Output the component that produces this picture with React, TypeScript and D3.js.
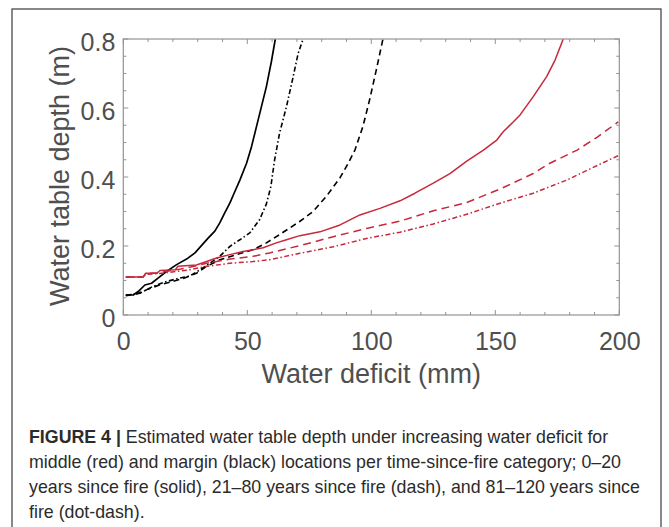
import React, { useEffect, useRef } from "react";
import * as d3 from "d3";

// water deficit (mm) vs water table depth (m)
const marginSolid: [number, number][] = [
  [1, 0.058], [4, 0.058], [6, 0.068], [8.7, 0.087], [11.4, 0.092], [14, 0.107],
  [17.4, 0.126], [21.5, 0.146], [25.5, 0.162], [28.9, 0.18], [31.5, 0.201],
  [34.2, 0.223], [36.9, 0.243], [38.9, 0.267], [40.9, 0.296], [43, 0.325],
  [44.5, 0.35], [47, 0.391], [49.7, 0.44], [51.7, 0.488], [53.7, 0.546],
  [55.7, 0.604], [57.7, 0.662], [59.7, 0.734], [61.3, 0.8],
];
const marginDash: [number, number][] = [
  [1, 0.058], [5, 0.06], [10, 0.075], [15, 0.088], [20, 0.097], [25, 0.108],
  [29.5, 0.121], [33.6, 0.141], [38.9, 0.16], [45.6, 0.175], [52.3, 0.189],
  [57.7, 0.209], [63, 0.233], [71.1, 0.271], [76.5, 0.3], [82, 0.345],
  [87.4, 0.398], [90.7, 0.44], [93.4, 0.478], [96.6, 0.546], [99.3, 0.623],
  [102, 0.71], [104.7, 0.8],
];
const marginDashDot: [number, number][] = [
  [1, 0.056], [6.7, 0.063], [12, 0.083], [17.4, 0.097], [22.8, 0.107],
  [26.8, 0.113], [30.9, 0.131], [34.9, 0.15], [38.9, 0.17], [43, 0.199],
  [47, 0.218], [51, 0.238], [55, 0.277], [57.7, 0.322], [59.5, 0.372],
  [61, 0.449], [63, 0.527], [65.8, 0.604], [68.5, 0.691], [70.5, 0.758],
  [72.5, 0.8],
];
const middleSolid: [number, number][] = [
  [1, 0.11], [8, 0.11], [9, 0.121], [13.5, 0.121], [14.8, 0.129], [21, 0.131],
  [22, 0.141], [29.5, 0.145], [33.6, 0.155], [37.6, 0.165], [43, 0.175],
  [48.3, 0.184], [52.3, 0.189], [56.4, 0.195], [61.7, 0.209], [65.8, 0.218],
  [71.2, 0.23], [79.3, 0.241], [87.4, 0.261], [95.4, 0.29], [103.5, 0.309],
  [111.6, 0.331], [117.6, 0.353], [125, 0.382], [131.7, 0.41], [138.5, 0.446],
  [145.2, 0.478], [150.6, 0.507], [153.2, 0.531], [157.3, 0.56], [160, 0.58],
  [165.3, 0.633], [170.7, 0.691], [174.1, 0.739], [177.4, 0.8],
];
const middleDash: [number, number][] = [
  [1, 0.11], [8, 0.11], [9, 0.12], [14, 0.122], [18.8, 0.128], [25.5, 0.136],
  [33.6, 0.15], [43, 0.162], [52.3, 0.17], [59, 0.18], [71.2, 0.201],
  [84.7, 0.227], [98.1, 0.251], [111.6, 0.272], [125, 0.302], [138.5, 0.326],
  [151.9, 0.365], [165.3, 0.41], [172, 0.44], [183, 0.478], [191, 0.515],
  [199.6, 0.56],
];
const middleDashDot: [number, number][] = [
  [1, 0.11], [8, 0.11], [9, 0.118], [14, 0.12], [18.8, 0.124], [26.8, 0.131],
  [33.6, 0.141], [43, 0.15], [52.3, 0.155], [59, 0.16], [71.2, 0.179],
  [84.7, 0.198], [98.1, 0.222], [111.6, 0.24], [125, 0.264], [138.5, 0.292],
  [151.9, 0.324], [165.3, 0.353], [178.8, 0.391], [189.5, 0.428], [199.6, 0.462],
];

const xTicks = [0, 50, 100, 150, 200];
const yTicks = [0, 0.2, 0.4, 0.6, 0.8];

const captionLines = [
  "Estimated water table depth under increasing water deficit for",
  "middle (red) and margin (black) locations per time-since-fire category; 0–20",
  "years since fire (solid), 21–80 years since fire (dash), and 81–120 years since",
  "fire (dot-dash).",
];

const RED = "#c7283a";
const series = [
  { data: marginSolid, color: "#000", dash: null, w: 1.7 },
  { data: marginDash, color: "#000", dash: "6,4", w: 1.6 },
  { data: marginDashDot, color: "#000", dash: "5,2.5,1.5,2.5", w: 1.6 },
  { data: middleSolid, color: RED, dash: null, w: 1.5 },
  { data: middleDash, color: RED, dash: "8,5", w: 1.5 },
  { data: middleDashDot, color: RED, dash: "5,2.5,1.5,2.5", w: 1.5 },
];

var svgWidth = 669;
var svgHeight = 527;
var left = 123.3, right = 619.3, top = 39, bottom = 315;

export default function App() {
  const ref = useRef<SVGSVGElement>(null);

  useEffect(() => {
    const svg = d3.select(ref.current);
    svg.selectAll("*").remove();

    const xScale = d3.scaleLinear().domain([0, 200]).range([left, right]);
    const yScale = d3.scaleLinear().domain([0, 0.8]).range([bottom, top]);
    const font = "'Liberation Sans', Arial, Helvetica, sans-serif";
    const axisGrey = "#939393";
    const textGrey = "#4f4f4f";

    // outer frame of the figure
    svg.append("rect")
      .attr("x", 12).attr("y", 9)
      .attr("width", 649).attr("height", 620)
      .attr("fill", "none")
      .attr("stroke", "#4a4a4a")
      .attr("stroke-width", 1.3);

    // curves
    const line = d3.line<[number, number]>()
      .x(d => xScale(d[0]))
      .y(d => yScale(d[1]));

    series.forEach(s => {
      svg.append("path")
        .datum(s.data)
        .attr("d", line)
        .attr("fill", "none")
        .attr("stroke", s.color)
        .attr("stroke-width", s.w)
        .attr("stroke-dasharray", s.dash)
        .attr("stroke-linejoin", "round");
    });

    // inward ticks on all 4 sides
    const xMinor = d3.range(0, 201, 10);
    const yMinor = d3.range(0, 0.801, 0.05);
    const isMajorX = (v: number) => v % 50 === 0;
    const isMajorY = (v: number) => Math.abs(v * 5 - Math.round(v * 5)) < 1e-6;

    const tickG = svg.append("g").attr("stroke", axisGrey).attr("stroke-width", 1);
    xMinor.forEach(v => {
      const len = isMajorX(v) ? 5 : 3;
      const x = xScale(v);
      tickG.append("line").attr("x1", x).attr("x2", x).attr("y1", bottom).attr("y2", bottom - len);
      tickG.append("line").attr("x1", x).attr("x2", x).attr("y1", top).attr("y2", top + len);
    });
    yMinor.forEach(v => {
      const len = isMajorY(v) ? 5 : 3;
      const y = yScale(v);
      tickG.append("line").attr("x1", left).attr("x2", left + len).attr("y1", y).attr("y2", y);
      tickG.append("line").attr("x1", right).attr("x2", right - len).attr("y1", y).attr("y2", y);
    });

    svg.append("rect")
      .attr("x", left).attr("y", top)
      .attr("width", right - left).attr("height", bottom - top)
      .attr("fill", "none")
      .attr("stroke", axisGrey)
      .attr("stroke-width", 1.2);

    // tick labels
    const xAxis = svg.append("g")
      .attr("transform", `translate(0,${bottom})`)
      .call(d3.axisBottom(xScale).tickValues(xTicks).tickSize(0).tickPadding(17).tickFormat(d3.format("d")));
    const yAxis = svg.append("g")
      .attr("transform", `translate(${left},0)`)
      .call(d3.axisLeft(yScale).tickValues(yTicks).tickSize(0).tickPadding(8)
        .tickFormat(d => (d === 0 ? "0" : d3.format(".1f")(d as number))));
    [xAxis, yAxis].forEach(g => {
      g.select(".domain").remove();
      g.selectAll("text")
        .attr("font-family", font)
        .attr("font-size", 25)
        .attr("fill", textGrey);
    });
    yAxis.selectAll("text").attr("dy", "0.46em");

    // axis titles
    svg.append("text")
      .attr("x", (left + right) / 2).attr("y", 383)
      .attr("text-anchor", "middle")
      .attr("font-family", font).attr("font-size", 27)
      .attr("fill", textGrey)
      .text("Water deficit (mm)");
    svg.append("text")
      .attr("transform", `translate(69,${(top + bottom) / 2 - 1}) rotate(-90)`)
      .attr("text-anchor", "middle")
      .attr("font-family", font).attr("font-size", 27)
      .attr("fill", textGrey)
      .text("Water table depth (m)");

    // caption
    const cap = svg.append("g")
      .attr("font-family", font)
      .attr("font-size", 17.8)
      .attr("fill", "#2b2b2b");
    const first = cap.append("text").attr("x", 29).attr("y", 443);
    first.append("tspan").attr("font-weight", "bold").text("FIGURE 4 | ");
    first.append("tspan").text(captionLines[0]);
    captionLines.slice(1).forEach((t, i) => {
      cap.append("text").attr("x", 29).attr("y", 468 + i * 25).text(t);
    });
  }, []);

  return (
    <svg
      ref={ref}
      width={svgWidth}
      height={svgHeight}
      style={{ position: "absolute", left: 0, top: 0, background: "#fff" }}
    />
  );
}
